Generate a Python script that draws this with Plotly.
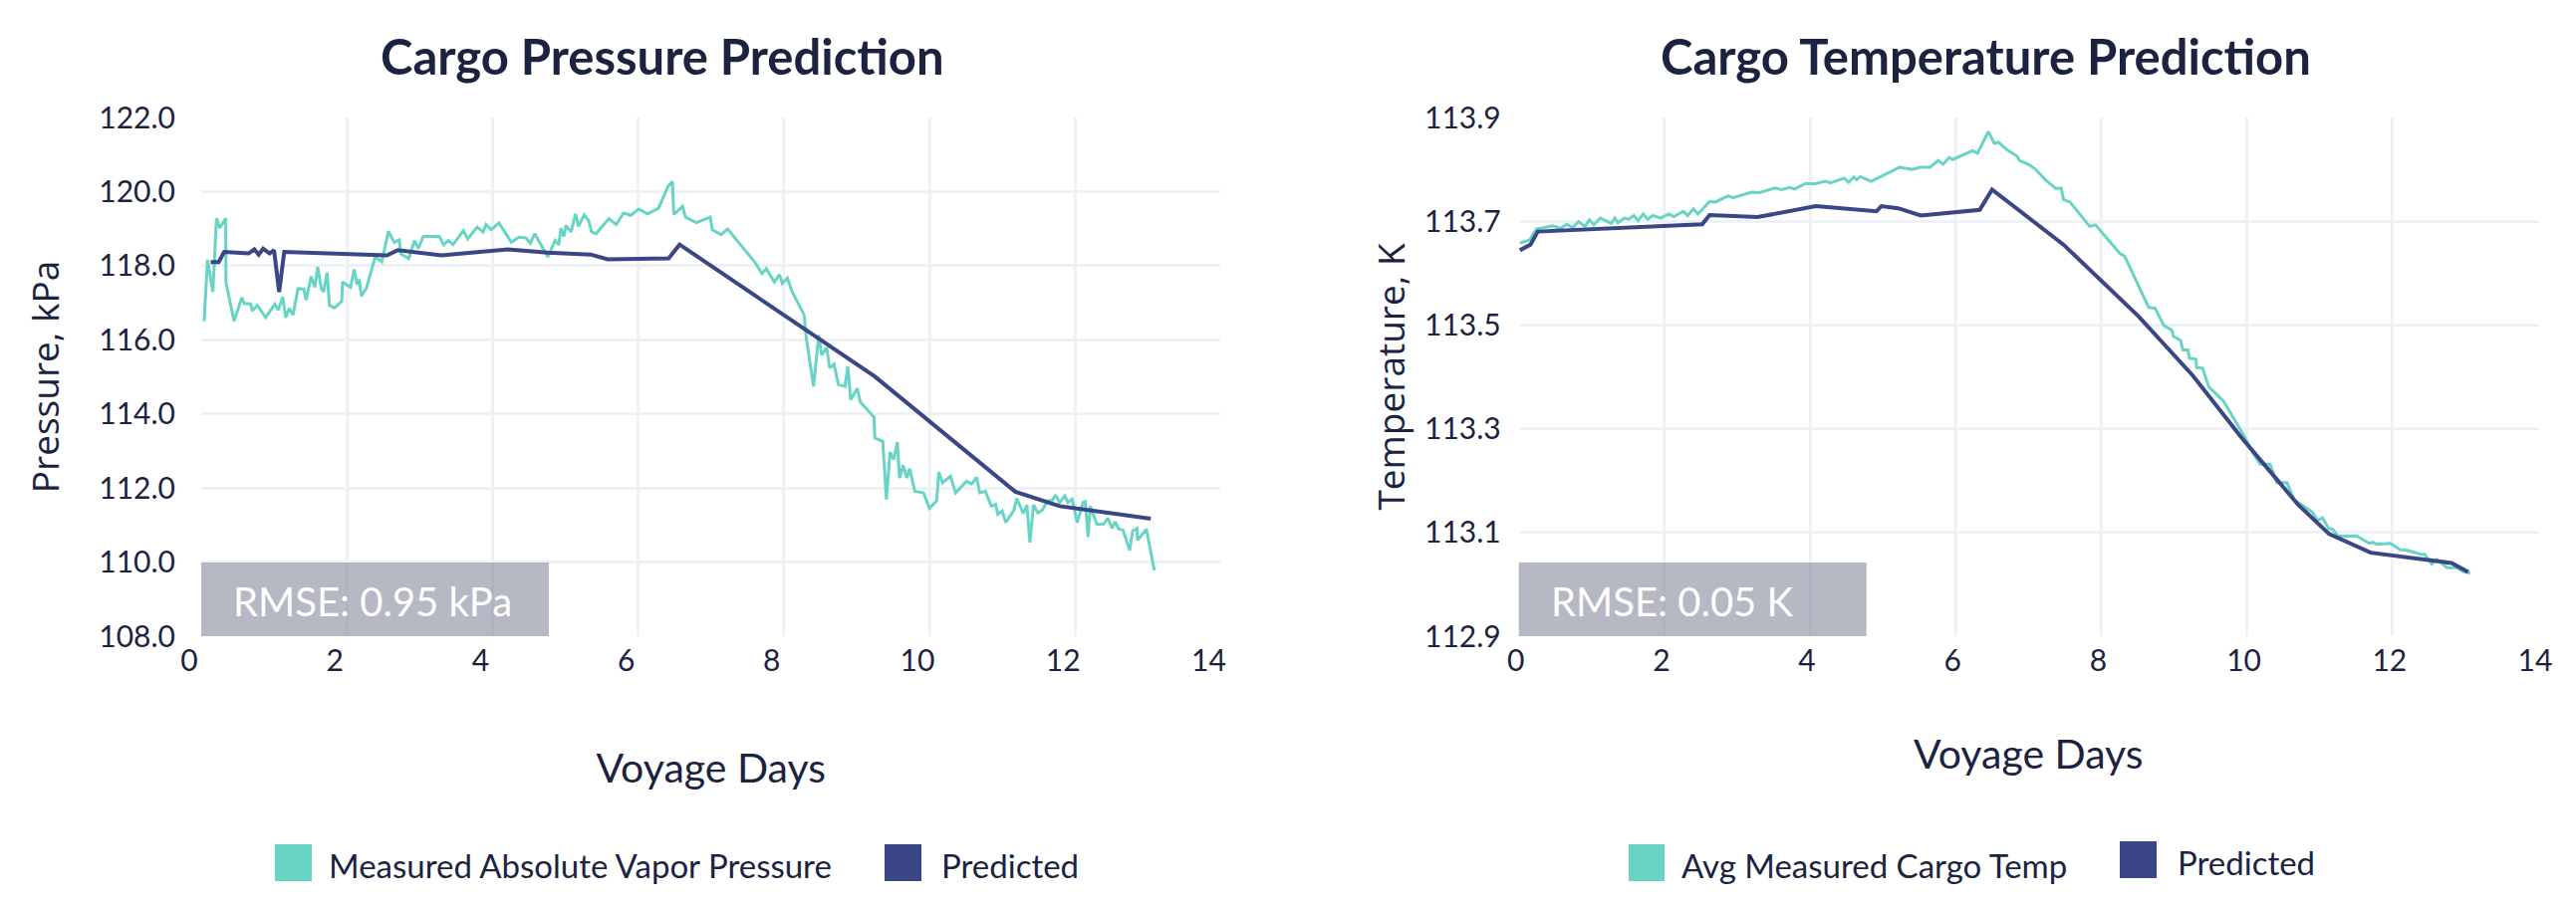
import plotly.graph_objects as go

# ---------------- data ----------------
p_days = [0.04, 0.087, 0.16, 0.21, 0.255, 0.337, 0.34, 0.45, 0.557, 0.59, 0.68, 0.70, 0.77, 0.885, 1.01, 1.058,
          1.12, 1.16, 1.21, 1.26, 1.33, 1.41, 1.44, 1.51, 1.56, 1.60, 1.65, 1.68, 1.73, 1.76, 1.83, 1.93, 1.94,
          2.05, 2.10, 2.14, 2.17, 2.20, 2.27, 2.39, 2.48, 2.57, 2.65, 2.72, 2.74, 2.85, 2.93, 2.98, 3.05, 3.27,
          3.33, 3.39, 3.46, 3.60, 3.66, 3.79, 3.87, 3.91, 3.98, 4.09, 4.26, 4.36, 4.46, 4.52, 4.58, 4.76, 4.86,
          4.91, 4.94, 4.98, 5.01, 5.08, 5.14, 5.18, 5.26, 5.32, 5.36, 5.42, 5.60, 5.70, 5.80, 5.90, 6.01, 6.13,
          6.28, 6.41, 6.47, 6.49, 6.61, 6.65, 6.80, 6.99, 7.02, 7.14, 7.23, 7.60, 7.70, 7.76, 7.87, 7.94, 7.98,
          8.05, 8.11, 8.23, 8.28, 8.31, 8.41, 8.48, 8.52, 8.59, 8.63, 8.69, 8.75, 8.84, 8.88, 8.92, 9.01, 9.05,
          9.24, 9.25, 9.36, 9.41, 9.46, 9.51, 9.56, 9.59, 9.64, 9.69, 9.73, 9.80, 9.92, 10.00, 10.10, 10.13,
          10.18, 10.29, 10.36, 10.51, 10.58, 10.65, 10.69, 10.77, 10.85, 10.91, 10.94, 11.00, 11.05, 11.16,
          11.20, 11.29, 11.34, 11.38, 11.43, 11.49, 11.55, 11.62, 11.69, 11.73, 11.79, 11.86, 11.90, 11.96,
          12.03, 12.11, 12.14, 12.18, 12.21, 12.30, 12.39, 12.45, 12.51, 12.55, 12.60, 12.66, 12.75, 12.79,
          12.85, 12.86, 12.98, 13.09]
p_measured = [116.50, 118.16, 117.29, 119.28, 119.02, 119.28, 117.56, 116.50, 117.14, 116.98, 116.97, 116.78,
              116.93, 116.60, 116.96, 116.80, 117.16, 116.60, 116.85, 116.67, 117.38, 117.37, 117.07, 117.71,
              117.42, 117.97, 117.38, 117.29, 117.81, 116.93, 116.86, 117.04, 117.56, 117.42, 117.90, 117.49,
              117.63, 117.18, 117.40, 118.24, 118.10, 118.93, 118.63, 118.70, 118.32, 118.19, 118.68, 118.46,
              118.79, 118.79, 118.56, 118.68, 118.57, 118.95, 118.72, 119.04, 118.91, 119.11, 118.97, 119.15,
              118.63, 118.77, 118.75, 118.61, 118.86, 118.24, 118.68, 118.56, 119.01, 118.79, 119.08, 118.91,
              119.40, 119.06, 119.37, 119.22, 118.91, 118.86, 119.27, 119.11, 119.42, 119.36, 119.53, 119.40,
              119.55, 120.14, 120.27, 119.38, 119.60, 119.31, 119.16, 119.31, 118.97, 118.84, 118.99, 118.10,
              117.79, 117.92, 117.56, 117.76, 117.52, 117.67, 117.32, 116.83, 116.67, 116.04, 114.74, 116.13,
              115.59, 115.79, 115.24, 115.34, 114.79, 114.74, 115.28, 114.38, 114.69, 114.32, 113.91, 113.35,
              113.26, 111.69, 112.97, 112.77, 113.24, 112.27, 112.61, 112.27, 112.52, 111.91, 111.87, 111.45,
              111.65, 112.43, 112.14, 112.32, 111.87, 112.18, 112.11, 112.29, 111.87, 111.91, 111.51, 111.56,
              111.29, 111.38, 111.07, 111.40, 111.72, 111.31, 111.54, 110.53, 111.54, 111.33, 111.40, 111.65,
              111.67, 111.81, 111.61, 111.79, 111.61, 111.70, 111.07, 111.61, 111.63, 110.68, 111.51, 111.02,
              111.02, 111.18, 110.91, 111.09, 110.89, 110.86, 110.32, 110.84, 110.91, 110.59, 110.89, 109.77]

p_pred_days = [0.13, 0.24, 0.315, 0.65, 0.73, 0.79, 0.85, 0.94, 1.00, 1.07, 1.14, 2.55, 2.70, 3.30, 4.21, 4.76,
               5.35, 5.58, 6.42, 6.57, 9.25, 11.18, 11.79, 13.04]
p_predicted = [118.10, 118.10, 118.37, 118.33, 118.44, 118.30, 118.46, 118.33, 118.42, 117.29, 118.37, 118.28,
               118.42, 118.28, 118.44, 118.35, 118.30, 118.17, 118.20, 118.57, 115.01, 111.90, 111.51, 111.17]

t_days = [0.014, 0.15, 0.24, 0.47, 0.57, 0.66, 0.74, 0.82, 0.91, 0.97, 1.03, 1.12, 1.27, 1.32, 1.36, 1.45, 1.51,
          1.58, 1.64, 1.71, 1.77, 1.84, 1.95, 2.06, 2.13, 2.26, 2.32, 2.40, 2.46, 2.62, 2.70, 2.88, 2.94, 3.08,
          3.20, 3.30, 3.52, 3.61, 3.72, 3.79, 3.94, 4.06, 4.21, 4.28, 4.47, 4.53, 4.60, 4.64, 4.69, 4.84, 5.23,
          5.40, 5.52, 5.65, 5.76, 5.83, 5.91, 5.96, 6.23, 6.30, 6.45, 6.53, 6.59, 6.70, 6.84, 6.88, 7.02, 7.09,
          7.24, 7.38, 7.45, 7.48, 7.57, 7.84, 7.92, 8.26, 8.32, 8.65, 8.74, 8.86, 8.97, 8.99, 9.09, 9.12, 9.19,
          9.21, 9.30, 9.31, 9.39, 9.48, 9.68, 9.97, 10.07, 10.18, 10.32, 10.41, 10.55, 10.65, 10.78, 10.90,
          10.97, 11.04, 11.12, 11.18, 11.25, 11.51, 11.68, 11.73, 11.78, 11.97, 12.11, 12.19, 12.39, 12.44,
          12.54, 12.61, 12.75, 12.88, 12.98, 13.07]
t_measured = [113.658, 113.664, 113.685, 113.691, 113.686, 113.694, 113.688, 113.699, 113.690, 113.703, 113.693,
              113.706, 113.696, 113.706, 113.697, 113.706, 113.704, 113.711, 113.701, 113.714, 113.704, 113.711,
              113.706, 113.714, 113.709, 113.719, 113.711, 113.724, 113.714, 113.738, 113.737, 113.749, 113.745,
              113.751, 113.756, 113.755, 113.764, 113.761, 113.765, 113.762, 113.773, 113.772, 113.777, 113.774,
              113.783, 113.775, 113.785, 113.780, 113.786, 113.777, 113.804, 113.800, 113.804, 113.804, 113.817,
              113.810, 113.823, 113.819, 113.836, 113.831, 113.873, 113.850, 113.852, 113.838, 113.826, 113.817,
              113.808, 113.801, 113.779, 113.763, 113.764, 113.742, 113.737, 113.690, 113.693, 113.637, 113.633,
              113.534, 113.532, 113.499, 113.490, 113.478, 113.470, 113.452, 113.452, 113.436, 113.434, 113.418,
              113.417, 113.380, 113.353, 113.284, 113.256, 113.232, 113.231, 113.196, 113.196, 113.163, 113.151,
              113.139, 113.123, 113.128, 113.108, 113.106, 113.093, 113.093, 113.079, 113.081, 113.077, 113.079,
              113.066, 113.066, 113.058, 113.058, 113.039, 113.048, 113.032, 113.032, 113.024, 113.022]

t_pred_days = [0.014, 0.16, 0.26, 2.52, 2.62, 3.28, 4.08, 4.91, 4.98, 5.21, 5.52, 6.33, 6.50, 7.48, 8.51, 9.26,
               9.92, 10.22, 10.70, 11.13, 11.70, 12.81, 13.04]
t_predicted = [113.644, 113.655, 113.680, 113.694, 113.712, 113.708, 113.729, 113.719, 113.729, 113.725, 113.711,
               113.722, 113.761, 113.655, 113.517, 113.402, 113.284, 113.234, 113.154, 113.097, 113.061, 113.041,
               113.024]

titles = ["Cargo Pressure Prediction", "Cargo Temperature Prediction"]
y_titles = ["Pressure, kPa", "Temperature, K"]
x_title = "Voyage Days"
legend_names = [["Measured Absolute Vapor Pressure", "Predicted"], ["Avg Measured Cargo Temp", "Predicted"]]
rmse_labels = ["RMSE: 0.95 kPa", "RMSE: 0.05 K"]
x_ticks = [0, 2, 4, 6, 8, 10, 12, 14]
p_ticks = [108, 110, 112, 114, 116, 118, 120, 122]
t_ticks = [112.9, 113.1, 113.3, 113.5, 113.7, 113.9]

# ---------------- style ----------------
TEAL = "#67d4c4"
NAVY = "#3a4685"
TXT = "#1c2340"
GRID = "#edf2f7"
FONT = "Lato"
YFONT = "Open Sans"

OFF = 8  # page offset of the figure (body margin)
W, H = 2586 - 2 * OFF, 907 - 2 * OFF
ML, MT = 202 - OFF, 118 - OFF
MR = W - (2548 - OFF)
MB = H - (639 - OFF)
PW = W - ML - MR
PH = H - MT - MB


def px_x(px):
    return (px - OFF - ML) / PW


def px_y(py):
    return (H - MB - (py - OFF)) / PH


fig = go.Figure()
fig.add_trace(go.Scatter(x=p_days, y=p_measured, mode="lines", name=legend_names[0][0],
                         line=dict(color=TEAL, width=3), xaxis="x", yaxis="y", showlegend=False))
fig.add_trace(go.Scatter(x=p_pred_days, y=p_predicted, mode="lines", name=legend_names[0][1],
                         line=dict(color=NAVY, width=4), xaxis="x", yaxis="y", showlegend=False))
fig.add_trace(go.Scatter(x=t_days, y=t_measured, mode="lines", name=legend_names[1][0],
                         line=dict(color=TEAL, width=3), xaxis="x2", yaxis="y2", showlegend=False))
fig.add_trace(go.Scatter(x=t_pred_days, y=t_predicted, mode="lines", name=legend_names[1][1],
                         line=dict(color=NAVY, width=4), xaxis="x2", yaxis="y2", showlegend=False))

axis_common = dict(showgrid=True, gridcolor=GRID, gridwidth=3, zeroline=False, showline=False,
                   ticks="", tickfont=dict(family=FONT, size=30, color=TXT))

fig.update_layout(
    width=W, height=H,
    margin=dict(l=ML, r=MR, t=MT, b=MB, autoexpand=False),
    paper_bgcolor="white", plot_bgcolor="white",
    font=dict(family=FONT, color=TXT),
    xaxis=dict(domain=[0, px_x(1225.4)], range=[0, 14], tickvals=x_ticks, anchor="y",
               ticklabelstandoff=4, ticklabelshift=-12,
               title=dict(text=x_title, font=dict(family=FONT, size=41, color=TXT), standoff=78),
               **axis_common),
    yaxis=dict(domain=[0, 1], range=[108, 122], tickvals=p_ticks, tickformat=".1f", anchor="x",
               ticklabelstandoff=25,
               title=dict(text=y_titles[0], font=dict(family=YFONT, size=37, color=TXT), standoff=28),
               **axis_common),
    xaxis2=dict(domain=[px_x(1524.7), 1], range=[0, 14], tickvals=x_ticks, anchor="y2",
                ticklabelstandoff=4, ticklabelshift=-3,
                title=dict(text=x_title, font=dict(family=FONT, size=41, color=TXT), standoff=64),
                **axis_common),
    yaxis2=dict(domain=[0, 1], range=[112.9, 113.9], tickvals=t_ticks, tickformat=".1f", anchor="x2",
                ticklabelstandoff=17,
                title=dict(text=y_titles[1], font=dict(family=YFONT, size=37, color=TXT), standoff=8),
                **axis_common),
)

shapes = []
annotations = []
# subplot titles
for title, cx in zip(titles, [664.5, 1993.0]):
    annotations.append(dict(text=f"<b>{title}</b>", xref="paper", yref="paper", x=px_x(cx), y=px_y(56),
                            xanchor="center", yanchor="middle", showarrow=False,
                            font=dict(family=FONT, size=49, color=TXT)))

# RMSE boxes
for i, label in enumerate(rmse_labels):
    xr = "x domain" if i == 0 else "x2 domain"
    yr = "y domain" if i == 0 else "y2 domain"
    shapes.append(dict(type="rect", xref=xr, yref=yr, x0=0, x1=349 / 1023.4, y0=0, y1=74 / PH,
                       fillcolor="rgba(110,115,135,0.5)", line=dict(width=0), layer="above"))
    annotations.append(dict(text=label, xref=xr, yref=yr, x=30 / 1023.4, y=35 / PH, xanchor="left",
                            yanchor="middle", showarrow=False, font=dict(family=FONT, size=40, color="white")))

# legends (drawn as swatches + labels)
legend_items = [
    (276, 313, 848, 885, TEAL, 328, legend_names[0][0]),
    (888, 925, 848, 885, NAVY, 942.5, legend_names[0][1]),
    (1635, 1671, 848, 885, TEAL, 1685.5, legend_names[1][0]),
    (2128, 2165, 845, 882, NAVY, 2183.6, legend_names[1][1]),
]
for x0, x1, y0, y1, col, tx, name in legend_items:
    shapes.append(dict(type="rect", xref="paper", yref="paper", x0=px_x(x0), x1=px_x(x1),
                       y0=px_y(y1), y1=px_y(y0), fillcolor=col, line=dict(width=0)))
    annotations.append(dict(text=name, xref="paper", yref="paper", x=px_x(tx), y=px_y((y0 + y1) / 2 + 2),
                            xanchor="left", yanchor="middle", showarrow=False,
                            font=dict(family=FONT, size=33, color=TXT)))

fig.update_layout(shapes=shapes, annotations=annotations)
fig.write_html("out.html")
